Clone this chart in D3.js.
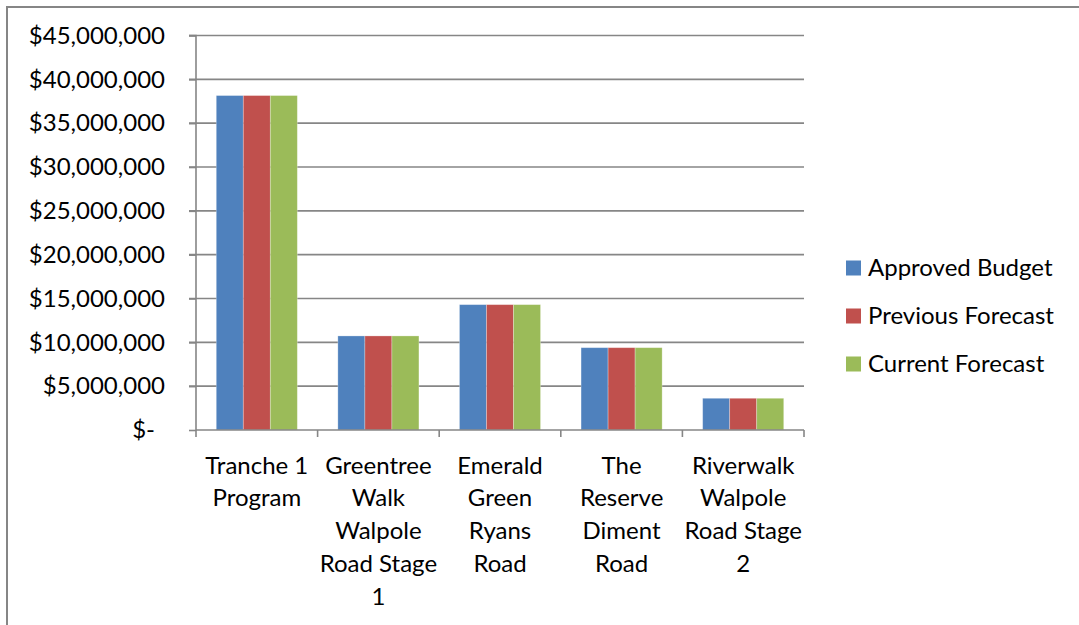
<!DOCTYPE html>
<html>
<head>
<meta charset="utf-8">
<script src="https://cdn.jsdelivr.net/npm/d3@7"></script>
<style>
  html, body { margin: 0; padding: 0; background: #fff; }
  svg { display: block; }
  text { font-family: Lato, "Open Sans", sans-serif; fill: #000; }
</style>
</head>
<body>
<svg id="chart" width="1079" height="625"></svg>
<script>
// ---- data ----
const categories = ["Tranche 1 Program", "Greentree Walk Walpole Road Stage 1", "Emerald Green Ryans Road", "The Reserve Diment Road", "Riverwalk Walpole Road Stage 2"];
const categoryLines = [
  ["Tranche 1", "Program"],
  ["Greentree", "Walk", "Walpole", "Road Stage", "1"],
  ["Emerald", "Green", "Ryans", "Road"],
  ["The", "Reserve", "Diment", "Road"],
  ["Riverwalk", "Walpole", "Road Stage", "2"]
];
const seriesNames = ["Approved Budget", "Previous Forecast", "Current Forecast"];
const approvedBudget   = [38150000, 10730000, 14300000, 9390000, 3620000];
const previousForecast = [38150000, 10730000, 14300000, 9390000, 3620000];
const currentForecast  = [38150000, 10730000, 14300000, 9390000, 3620000];
const yTicks = [0, 5000000, 10000000, 15000000, 20000000, 25000000, 30000000, 35000000, 40000000, 45000000];
const colors = ["#4F81BD", "#C0504D", "#9BBB59"];

const seriesValues = [approvedBudget, previousForecast, currentForecast];

// ---- layout ----
const svg = d3.select("#chart");
const pLeft = 196, pRight = 804, pTop = 35.5, pBottom = 430;
const fontSize = 24;
const gridColor = "#868686";

// outer border (extends past the right/bottom edges)
svg.append("rect")
  .attr("x", 7).attr("y", 7).attr("width", 1200).attr("height", 800)
  .attr("fill", "none").attr("stroke", gridColor).attr("stroke-width", 2);

const y = d3.scaleLinear().domain([0, 45000000]).range([pBottom, pTop]);
const x0 = d3.scaleBand().domain(categories).range([pLeft, pRight]).padding(0);
const x1 = d3.scaleBand().domain(seriesNames)
  .range([x0.bandwidth() / 6, x0.bandwidth() * 5 / 6]).padding(0);

// gridlines
svg.append("g").selectAll("line").data(yTicks.filter(d => d > 0)).join("line")
  .attr("x1", pLeft - 7).attr("x2", pRight)
  .attr("y1", d => y(d)).attr("y2", d => y(d))
  .attr("stroke", gridColor).attr("stroke-width", 1.6);

// bars
const groups = svg.append("g").selectAll("g").data(categories).join("g")
  .attr("transform", d => `translate(${x0(d)},0)`);
groups.selectAll("rect")
  .data((c, i) => seriesNames.map((s, j) => ({ s, j, v: seriesValues[j][i] })))
  .join("rect")
  .attr("x", d => x1(d.s))
  .attr("width", x1.bandwidth())
  .attr("y", d => y(d.v))
  .attr("height", d => y(0) - y(d.v))
  .attr("fill", d => colors[d.j])
  .attr("stroke", "#ffffff").attr("stroke-opacity", 0.35).attr("stroke-width", 0.8);

// y axis
const fmt = d3.format(",");
const yAxis = d3.axisLeft(y).tickValues(yTicks).tickSize(7).tickPadding(24)
  .tickFormat(d => d === 0 ? "$-" : "$" + fmt(d));
const gy = svg.append("g").attr("transform", `translate(${pLeft},0)`).call(yAxis);
gy.select(".domain").attr("stroke", gridColor).attr("stroke-width", 1.6)
  .attr("d", `M-7,${pTop}H0V${pBottom}`);
gy.selectAll(".tick line").attr("stroke", gridColor).attr("stroke-width", 1.6);
gy.selectAll(".tick text")
  .attr("font-family", "Lato, sans-serif").attr("font-size", fontSize).attr("fill", "#000")
  .attr("dx", d => d === 0 ? -10 : 0);

// x axis
const xAxis = d3.axisBottom(x0).tickSize(0).tickFormat("");
const gx = svg.append("g").attr("transform", `translate(0,${pBottom})`).call(xAxis);
gx.select(".domain").attr("stroke", gridColor).attr("stroke-width", 1.6)
  .attr("d", `M${pLeft},0H${pRight}`);
const boundaries = [pLeft].concat(categories.map(c => x0(c) + x0.bandwidth()));
gx.append("g").selectAll("line").data(boundaries).join("line")
  .attr("x1", d => d).attr("x2", d => d).attr("y1", 0).attr("y2", 7)
  .attr("stroke", gridColor).attr("stroke-width", 1.6);

// category labels
const lineH = 32.8;
const labels = svg.append("g").selectAll("text").data(categories).join("text")
  .attr("text-anchor", "middle")
  .attr("font-size", fontSize)
  .attr("transform", d => `translate(${x0(d) + x0.bandwidth() / 2},${473.5})`);
labels.selectAll("tspan").data((d, i) => categoryLines[i]).join("tspan")
  .attr("x", 0).attr("y", (d, i) => i * lineH).text(d => d);

// legend
const legend = svg.append("g").selectAll("g").data(seriesNames).join("g")
  .attr("transform", (d, i) => `translate(846,${268 + i * 48})`);
legend.append("rect").attr("x", 0).attr("y", -7.5).attr("width", 15).attr("height", 15)
  .attr("fill", (d, i) => colors[i]);
legend.append("text").attr("x", 22).attr("y", 0).attr("dy", "0.35em")
  .attr("font-size", fontSize).text(d => d);
</script>
</body>
</html>
